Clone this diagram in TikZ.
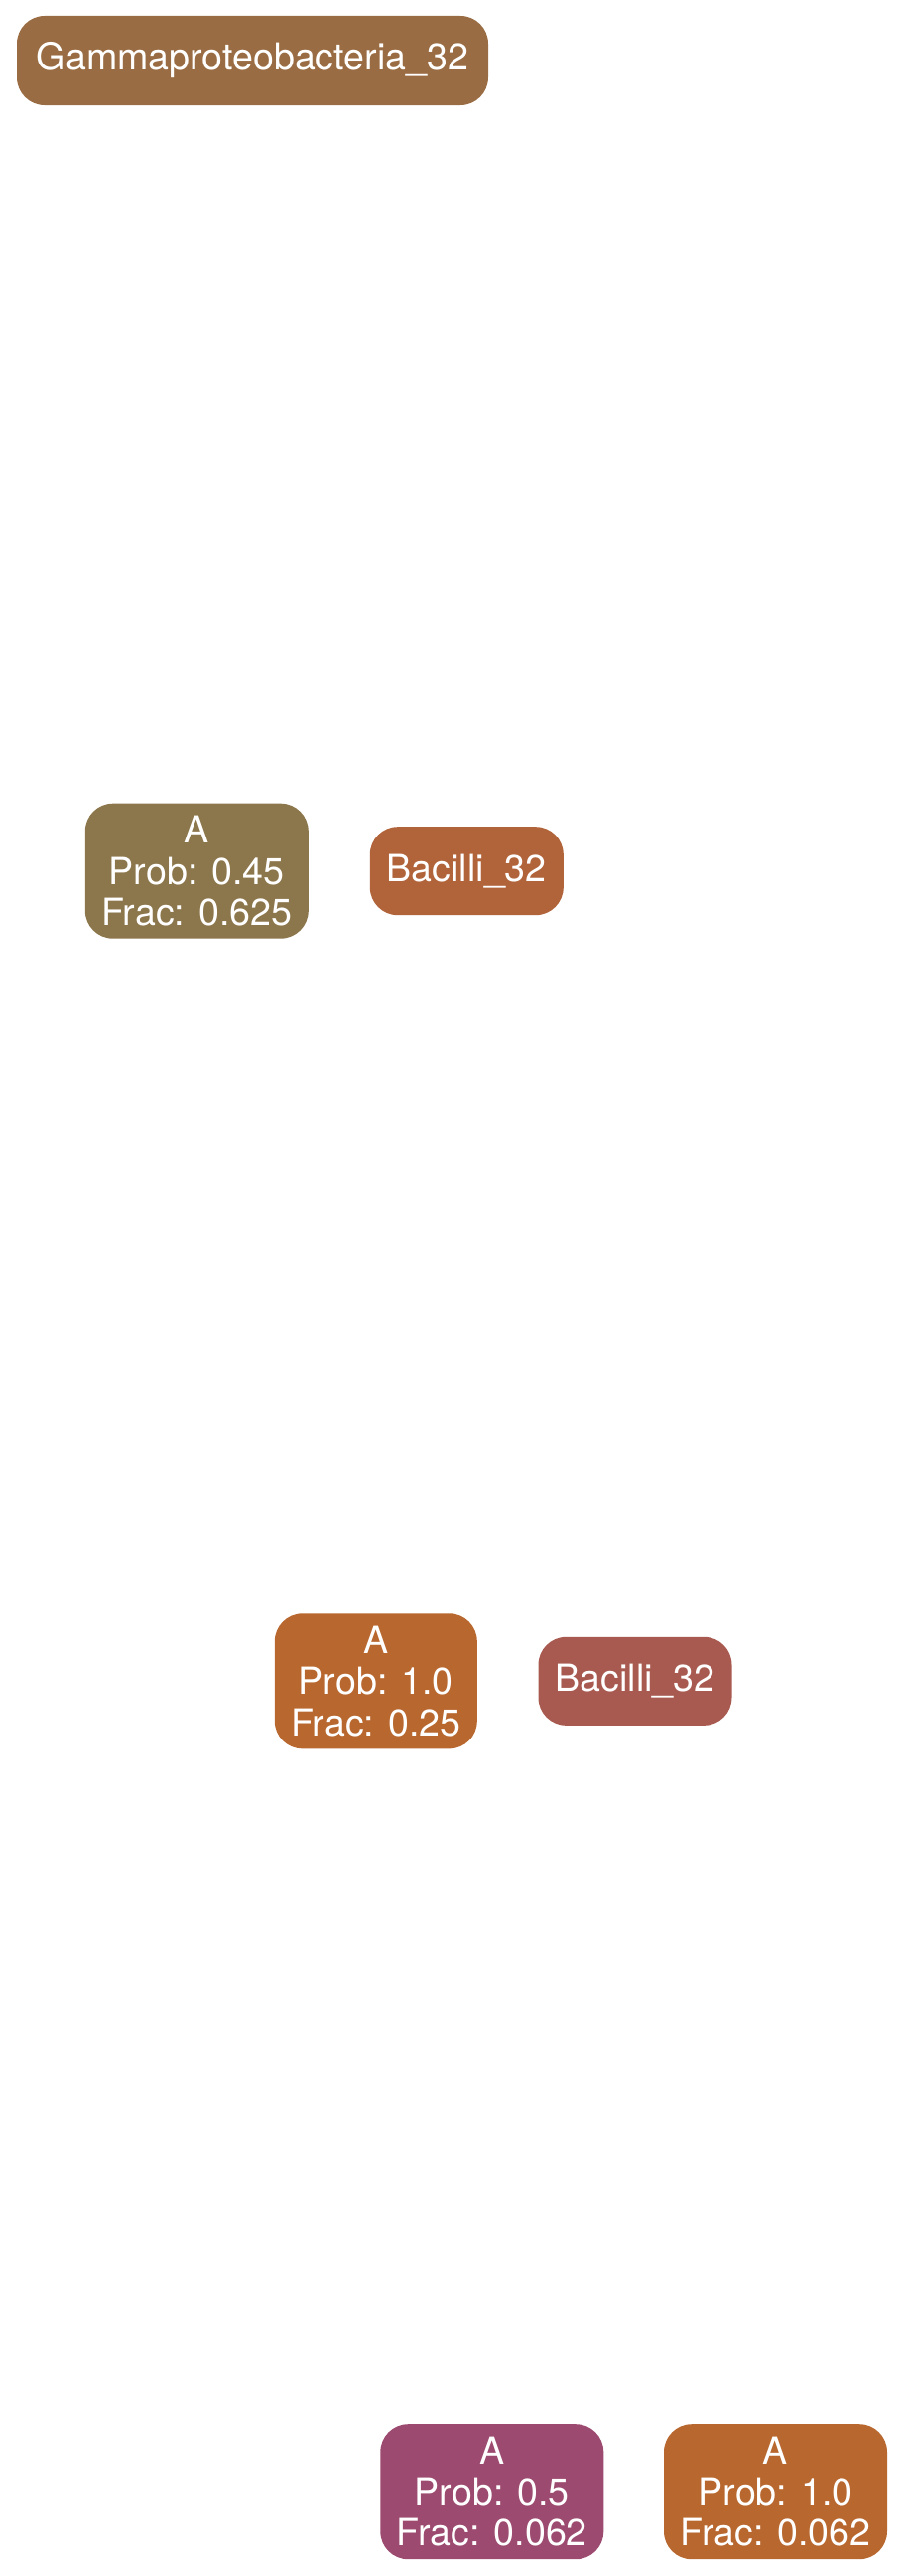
\documentclass[tikz,border=0pt]{standalone}
\usepackage{fontspec}
\setmainfont{TeX Gyre Heros}
\definecolor{cgamma}{HTML}{9A6C43}
\definecolor{caone}{HTML}{8C764B}
\definecolor{cbone}{HTML}{B1633A}
\definecolor{catwo}{HTML}{B8672F}
\definecolor{cbtwo}{HTML}{A85A50}
\definecolor{cathree}{HTML}{9C4A6F}
\tikzset{
  box/.style={rounded corners=28pt, inner sep=0pt, align=center, text=white,
    font=\fontsize{37.6}{41.3}\selectfont, draw=none},
}
\begin{document}
\begin{tikzpicture}[x=1pt,y=-1pt]
\useasboundingbox (0,0) rectangle (911,2596);
\node[box, fill=cgamma, minimum width=475pt, minimum height=90pt] (gamma) at (254.5,61) {Gammaproteobacteria\_32};
\node[box, fill=caone, minimum width=225pt, minimum height=136pt] (aone) at (198.3,877.7) {A\\Prob: 0.45\\Frac: 0.625};
\node[box, fill=cbone, minimum width=195pt, minimum height=89pt] (bone) at (470.3,877.7) {Bacilli\_32};
\node[box, fill=catwo, minimum width=204pt, minimum height=136pt] (atwo) at (378.8,1694.3) {A\\Prob: 1.0\\Frac: 0.25};
\node[box, fill=cbtwo, minimum width=195pt, minimum height=89pt] (btwo) at (640,1694.3) {Bacilli\_32};
\node[box, fill=cathree, minimum width=225pt, minimum height=136pt] (athree) at (495.8,2511.2) {A\\Prob: 0.5\\Frac: 0.062};
\node[box, fill=catwo, minimum width=225pt, minimum height=136pt] (afour) at (781.5,2511.2) {A\\Prob: 1.0\\Frac: 0.062};
\end{tikzpicture}
\end{document}
